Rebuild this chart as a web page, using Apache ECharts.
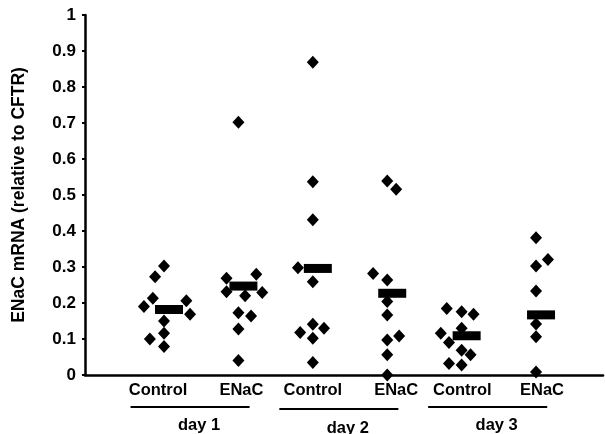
<!DOCTYPE html>
<html>
<head>
<meta charset="utf-8">
<script src="https://cdn.jsdelivr.net/npm/echarts@6/dist/echarts.min.js"></script>
<style>
html,body{margin:0;padding:0;background:#fff;}
#c{width:605px;height:434px;}
</style>
</head>
<body>
<div id="c"></div>
<script>
// ---- data ----
var categories = ['Control', 'ENaC', 'Control', 'ENaC', 'Control', 'ENaC'];
var days = ['day 1', 'day 2', 'day 3'];
var yTicks = ['0', '0.1', '0.2', '0.3', '0.4', '0.5', '0.6', '0.7', '0.8', '0.9', '1'];

var d1Control = [0.303, 0.273, 0.213, 0.190, 0.206, 0.169, 0.150, 0.116, 0.100, 0.079];
var d1ENaC    = [0.702, 0.269, 0.280, 0.231, 0.220, 0.229, 0.173, 0.164, 0.128, 0.040];
var d2Control = [0.869, 0.537, 0.431, 0.298, 0.259, 0.141, 0.130, 0.118, 0.102, 0.035];
var d2ENaC    = [0.539, 0.516, 0.282, 0.264, 0.204, 0.167, 0.097, 0.108, 0.056, 0.000];
var d3Control = [0.185, 0.176, 0.169, 0.116, 0.130, 0.090, 0.069, 0.056, 0.032, 0.028];
var d3ENaC    = [0.381, 0.321, 0.303, 0.233, 0.142, 0.106, 0.008];

// horizontal scatter (jitter) of each point, in category units
var d1ControlJitter = [0, -0.12, -0.15, -0.27, 0.30, 0.35, 0, 0, -0.19, 0];
var d1ENaCJitter    = [0, -0.16, 0.24, -0.16, 0.09, 0.32, 0, 0.17, 0, 0];
var d2ControlJitter = [0, 0, 0, -0.20, 0, 0, 0.15, -0.17, 0, 0];
var d2ENaCJitter    = [0, 0.12, -0.19, 0, 0, 0, 0, 0.16, 0, 0];
var d3ControlJitter = [-0.20, 0, 0.16, -0.28, 0, -0.17, 0, 0.12, -0.17, 0];
var d3ENaCJitter    = [0, 0.16, 0, 0, 0, 0, 0];

var means = [0.182, 0.247, 0.296, 0.227, 0.109, 0.167];

// ---- build ----
var groups = [d1Control, d1ENaC, d2Control, d2ENaC, d3Control, d3ENaC];
var jitters = [d1ControlJitter, d1ENaCJitter, d2ControlJitter, d2ENaCJitter, d3ControlJitter, d3ENaCJitter];
var points = [];
groups.forEach(function (g, gi) {
  g.forEach(function (v, i) { points.push([gi + jitters[gi][i], v]); });
});
var meanData = means.map(function (m, i) { return [i, m]; });

// layout constants (not data)
var labelPos = [-0.08, 0.04, 0, 0.12, 0.01, 0.08];
var FONT = 'Liberation Sans, Arial, sans-serif';

var chart = echarts.init(document.getElementById('c'));
chart.setOption({
  animation: false,
  backgroundColor: '#fff',
  grid: { left: 85, right: 2, top: 15, bottom: 59, containLabel: false },
  xAxis: {
    type: 'value',
    min: -1.062,
    max: 5.90,
    splitLine: { show: false },
    axisLine: { show: true, onZero: false, lineStyle: { color: '#000', width: 2.5 } },
    axisTick: { show: false },
    axisLabel: {
      customValues: labelPos.map(function (p, i) { return i + p; }),
      formatter: function (v) {
        var i = Math.round(v);
        return categories[i] || '';
      },
      color: '#000', fontWeight: 'bold', fontSize: 16.5, fontFamily: FONT, margin: 7
    }
  },
  yAxis: {
    type: 'value',
    min: 0, max: 1, interval: 0.1,
    name: 'ENaC mRNA (relative to CFTR)',
    nameLocation: 'middle',
    nameGap: 57,
    nameTextStyle: { color: '#000', fontWeight: 'bold', fontSize: 17.5, fontFamily: FONT },
    splitLine: { show: false },
    axisLine: { show: true, onZero: false, lineStyle: { color: '#000', width: 2.5 } },
    axisTick: { show: true, inside: false, length: 3, lineStyle: { color: '#000', width: 2 } },
    axisLabel: {
      formatter: function (v) { return yTicks[Math.round(v * 10)]; },
      color: '#000', fontWeight: 'bold', fontSize: 17, fontFamily: FONT, margin: 9,
      padding: [10, 0, 0, 0]
    }
  },
  series: [
    {
      type: 'scatter',
      data: points,
      symbol: 'diamond',
      symbolSize: [12, 13],
      itemStyle: { color: '#000', opacity: 1 },
      emphasis: { disabled: true },
      z: 2
    },
    {
      type: 'scatter',
      data: meanData,
      symbol: 'rect',
      symbolSize: [28, 9],
      symbolOffset: [5, 0],
      itemStyle: { color: '#000', opacity: 1 },
      emphasis: { disabled: true },
      z: 3
    }
  ]
});

// group underlines and day labels, positioned through the x axis scale
var groupSpan = [-0.45, 1.15];
var graphics = [];
days.forEach(function (d, i) {
  var x0 = chart.convertToPixel({ xAxisIndex: 0 }, 2 * i + groupSpan[0]);
  var x1 = chart.convertToPixel({ xAxisIndex: 0 }, 2 * i + groupSpan[1]);
  var ly = (i === 1) ? 409 : 407;
  graphics.push({
    type: 'line',
    shape: { x1: x0, y1: ly, x2: x1, y2: ly },
    style: { stroke: '#000', lineWidth: 2.2 }
  });
  graphics.push({
    type: 'text',
    style: {
      text: d, x: (x0 + x1) / 2 + 9, y: (i === 1) ? 428 : 425,
      textAlign: 'center', textVerticalAlign: 'middle',
      font: 'bold 16.5px ' + FONT, fill: '#000'
    }
  });
});
chart.setOption({ graphic: graphics });
</script>
</body>
</html>
